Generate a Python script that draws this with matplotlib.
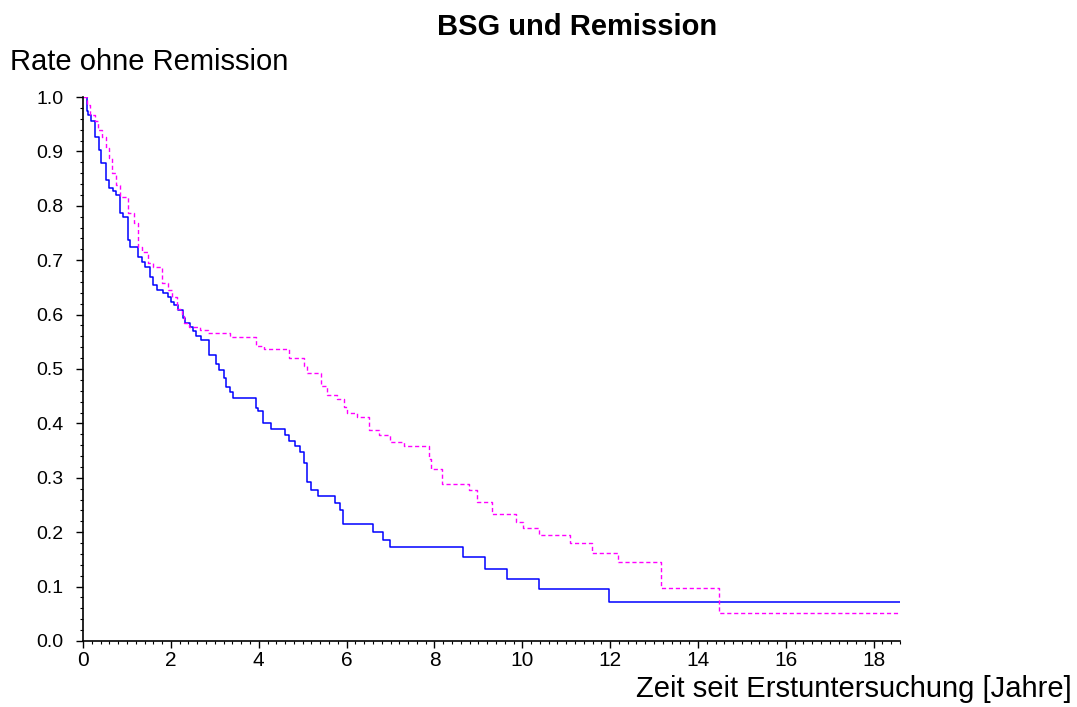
import numpy as np
import matplotlib
matplotlib.use("Agg")
import matplotlib.pyplot as plt
from matplotlib.ticker import MultipleLocator, FormatStrFormatter

plt.rcParams['font.family'] = ['Liberation Sans', 'DejaVu Sans']

# Kaplan-Meier estimates: event times (years) and survival after each step
group_a_time = [0.0, 0.08, 0.12, 0.17, 0.27, 0.36, 0.42, 0.52, 0.59, 0.69, 0.74,
                0.85, 0.92, 1.03, 1.08, 1.25, 1.34, 1.42, 1.53, 1.60, 1.68,
                1.83, 1.94, 2.00, 2.08, 2.16, 2.27, 2.32, 2.44, 2.50, 2.57,
                2.69, 2.86, 3.03, 3.10, 3.20, 3.26, 3.35, 3.42, 3.94, 3.99,
                4.09, 4.28, 4.60, 4.68, 4.83, 4.93, 5.02, 5.10, 5.19, 5.35,
                5.74, 5.84, 5.91, 6.60, 6.83, 6.99, 8.66, 9.16, 9.65, 10.39,
                11.98, 18.6]
group_a_surv = [1.0, 0.974, 0.967, 0.955, 0.926, 0.902, 0.879, 0.847, 0.833, 0.827, 0.820,
                0.786, 0.780, 0.737, 0.725, 0.705, 0.697, 0.688, 0.670, 0.654, 0.645,
                0.639, 0.633, 0.624, 0.618, 0.608, 0.594, 0.585, 0.578, 0.569, 0.561,
                0.553, 0.526, 0.510, 0.499, 0.483, 0.466, 0.458, 0.447, 0.429, 0.422,
                0.400, 0.389, 0.379, 0.368, 0.359, 0.347, 0.328, 0.292, 0.278, 0.267,
                0.253, 0.241, 0.215, 0.201, 0.186, 0.172, 0.154, 0.132, 0.114, 0.095,
                0.071, 0.071]

group_b_time = [0.0, 0.10, 0.16, 0.27, 0.35, 0.43, 0.52, 0.59, 0.67, 0.75, 0.84,
                1.03, 1.16, 1.26, 1.34, 1.49, 1.60, 1.79, 1.94, 2.02, 2.13,
                2.25, 2.29, 2.42, 2.67, 2.85, 3.35, 3.94, 4.11, 4.68, 5.02,
                5.10, 5.41, 5.55, 5.78, 5.93, 6.01, 6.23, 6.50, 6.73, 6.99,
                7.30, 7.87, 7.92, 8.17, 8.78, 8.98, 9.31, 9.86, 10.02, 10.39,
                11.09, 11.59, 12.17, 13.16, 14.47, 18.6]
group_b_surv = [1.0, 0.985, 0.967, 0.955, 0.939, 0.927, 0.906, 0.887, 0.860, 0.838, 0.817,
                0.786, 0.768, 0.725, 0.715, 0.694, 0.688, 0.658, 0.645, 0.632, 0.610,
                0.597, 0.585, 0.578, 0.572, 0.567, 0.558, 0.542, 0.537, 0.521, 0.506,
                0.493, 0.469, 0.453, 0.445, 0.430, 0.420, 0.411, 0.388, 0.379, 0.366,
                0.358, 0.334, 0.317, 0.289, 0.278, 0.256, 0.233, 0.219, 0.207, 0.194,
                0.180, 0.161, 0.146, 0.098, 0.051, 0.051]

fig = plt.figure(figsize=(10.77, 7.07), dpi=100)
ax = fig.add_axes([0.0771, 0.0934, 0.7586, 0.7694])

ax.step(group_a_time, group_a_surv, where='post', color='#0000ff', lw=1.1)
ax.step(group_b_time, group_b_surv, where='post', color='#ff00ff', lw=1.0,
        linestyle=(0, (3, 2)))

ax.set_xlim(0, 18.6)
ax.set_ylim(0, 1.0)

# axis styling: only left and bottom spines, outward ticks
for side in ['top', 'right']:
    ax.spines[side].set_visible(False)
for side in ['left', 'bottom']:
    ax.spines[side].set_linewidth(1.2)

ax.xaxis.set_major_locator(MultipleLocator(2))
ax.xaxis.set_minor_locator(MultipleLocator(0.2))
ax.yaxis.set_major_locator(MultipleLocator(0.1))
ax.yaxis.set_minor_locator(MultipleLocator(0.02))
ax.yaxis.set_major_formatter(FormatStrFormatter('%.1f'))

ax.tick_params(which='major', direction='out', length=5, width=1.0, labelsize=14)
ax.tick_params(which='minor', direction='out', length=2.5, width=0.8)
ax.tick_params(axis='x', which='major', pad=2, labelsize=15)
ax.tick_params(axis='y', which='major', pad=9)

fig.text(577 / 1077, (707 - 35) / 707, 'BSG und Remission', ha='center',
         va='baseline', fontsize=21, fontweight='bold')
fig.text(10 / 1077, (707 - 70) / 707, 'Rate ohne Remission', ha='left',
         va='baseline', fontsize=21)
fig.text(1072 / 1077, 10 / 707, 'Zeit seit Erstuntersuchung [Jahre]', ha='right',
         va='baseline', fontsize=21)

fig.savefig('out.png', dpi=100)
